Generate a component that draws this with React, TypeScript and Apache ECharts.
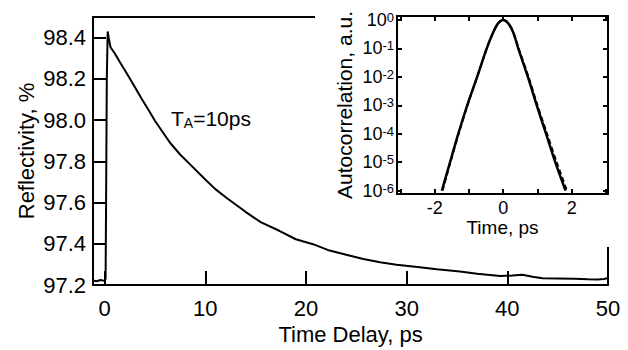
import React, { useEffect, useRef } from "react";
import * as echarts from "echarts";

// Main curve: reflectivity vs time delay
const delayPs = [
  -1.15, -0.8, -0.4, 0.0, 0.1, 0.15, 0.22, 0.31, 0.4, 0.6, 0.93, 1.5, 2.0, 2.7, 3.68,
  4.4, 5.0, 5.8, 6.5, 7.5, 8.49, 10, 11, 12.13, 14, 15.5, 17.35, 19, 20.7, 22.35, 24, 25.7,
  27.35, 29, 31.3, 33, 35.3, 37, 39.3, 40.5, 41.5, 42.5, 43.5, 45, 46.7, 48, 49, 49.6, 50,
];
const reflectivity = [
  97.222, 97.218, 97.224, 97.22, 97.23, 97.6, 98.2, 98.43, 98.4, 98.352, 98.33, 98.283,
  98.243, 98.186, 98.103, 98.046, 97.997, 97.94, 97.89, 97.833, 97.785, 97.712, 97.665,
  97.622, 97.555, 97.505, 97.463, 97.422, 97.398, 97.367, 97.347, 97.326, 97.31, 97.298,
  97.286, 97.276, 97.266, 97.255, 97.244, 97.246, 97.25, 97.24, 97.233, 97.232, 97.23,
  97.228, 97.227, 97.229, 97.234,
];

// Inset: autocorrelation (measured, solid) and fit (dashed)
const acTime = [-1.79, -1.55, -1.31, -1.05, -0.76, -0.48, -0.3, -0.15, 0, 0.15, 0.3, 0.44, 0.72, 0.98, 1.25, 1.52, 1.82];
const acMeasured = [1e-6, 1e-5, 1e-4, 1e-3, 1e-2, 0.1, 0.35, 0.76, 1, 0.76, 0.35, 0.1, 1e-2, 1e-3, 1e-4, 1e-5, 1e-6];
const acFitTime = [-1.77, -1.54, -1.3, -1.04, -0.76, -0.48, -0.3, -0.15, 0, 0.15, 0.3, 0.45, 0.74, 1.0, 1.28, 1.56, 1.86];
const acFit = [1e-6, 1e-5, 1e-4, 1e-3, 1e-2, 0.1, 0.35, 0.76, 1, 0.76, 0.35, 0.1, 1e-2, 1e-3, 1e-4, 1e-5, 1e-6];

const mainXTicks = [0, 10, 20, 30, 40, 50];
const mainYTicks = [97.2, 97.4, 97.6, 97.8, 98.0, 98.2, 98.4];
const insetXTicks = [-3, -2, -1, 0, 1, 2, 3];
const insetXLabels = [-2, 0, 2];
const insetYDecades = [-6, -5, -4, -3, -2, -1, 0];

const FONT = "Liberation Sans";
const BLACK = "#000";

export default function App() {
  const ref = useRef<HTMLDivElement>(null);
  useEffect(() => {
    if (!ref.current) return;
    const chart = echarts.init(ref.current, undefined, { renderer: "svg" });
    const lineStyle = { color: BLACK, width: 2 };
    const axisLine = { onZero: false, lineStyle };
    const mainSeries = delayPs.map((t, i) => [t, reflectivity[i]]);
    const acSeries = acTime.map((t, i) => [t, Math.log10(acMeasured[i])]);
    const fitSeries = acFitTime.map((t, i) => [t, Math.log10(acFit[i])]);

    chart.setOption({
      animation: false,
      backgroundColor: "#fff",
      textStyle: { fontFamily: FONT, color: BLACK },
      grid: [
        { left: 93, right: 20, top: 17, bottom: 62 },
        { left: 397, right: 20, top: 16, bottom: 156 },
      ],
      xAxis: [
        {
          gridIndex: 0, type: "value", min: -1.15, max: 50, position: "bottom", z: 0,
          axisLine, splitLine: { show: false },
          axisTick: { inside: true, length: 14, lineStyle, customValues: mainXTicks },
          axisLabel: { customValues: mainXTicks, fontSize: 22, margin: 12, color: BLACK, fontFamily: FONT },
          name: "Time Delay, ps", nameLocation: "middle", nameGap: 38, nameMoveOverlap: false,
          nameTextStyle: { fontSize: 22, color: BLACK, fontFamily: FONT },
        },
        {
          gridIndex: 0, type: "value", min: -1.15, max: 50, position: "top", z: 0,
          axisLine, splitLine: { show: false },
          axisTick: { show: false }, axisLabel: { show: false },
        },
        {
          gridIndex: 1, type: "value", min: -3.1, max: 3.06, position: "bottom", z: 20,
          axisLine, splitLine: { show: false },
          axisTick: { inside: true, length: 5, lineStyle, customValues: insetXTicks },
          axisLabel: { customValues: insetXLabels, fontSize: 18, margin: 5, color: BLACK, fontFamily: FONT },
          name: "Time, ps", nameLocation: "middle", nameGap: 24, nameMoveOverlap: false,
          nameTextStyle: { fontSize: 19, color: BLACK, fontFamily: FONT },
        },
        {
          gridIndex: 1, type: "value", min: -3.1, max: 3.06, position: "top", z: 20,
          axisLine, splitLine: { show: false },
          axisTick: { inside: true, length: 5, lineStyle, customValues: insetXTicks },
          axisLabel: { show: false },
        },
      ],
      yAxis: [
        {
          gridIndex: 0, type: "value", min: 97.2, max: 98.5, position: "left", z: 0,
          axisLine, splitLine: { show: false },
          axisTick: { inside: true, length: 13, lineStyle, customValues: mainYTicks },
          axisLabel: {
            customValues: mainYTicks, fontSize: 22, margin: 7, color: BLACK, fontFamily: FONT,
            formatter: (v: number) => v.toFixed(1),
          },
          name: "Reflectivity, %", nameLocation: "middle", nameGap: 56, nameMoveOverlap: false,
          nameTextStyle: { fontSize: 22, color: BLACK, fontFamily: FONT },
        },
        {
          gridIndex: 0, type: "value", min: 97.2, max: 98.5, position: "right", z: 0,
          axisLine, splitLine: { show: false },
          axisTick: { show: false }, axisLabel: { show: false },
        },
        {
          gridIndex: 1, type: "value", min: -6.12, max: 0.14, position: "left", z: 20,
          axisLine, splitLine: { show: false },
          axisTick: { inside: true, length: 5, lineStyle, customValues: insetYDecades },
          axisLabel: {
            customValues: insetYDecades, margin: 3, color: BLACK,
            formatter: (v: number) => `{b|10}{s|${Math.round(v)}}`,
            rich: {
              b: { fontSize: 18, fontFamily: FONT, color: BLACK },
              s: { fontSize: 13, fontFamily: FONT, color: BLACK, verticalAlign: "top" },
            },
          },
          name: "Autocorrelation, a.u.", nameLocation: "middle", nameGap: 42, nameMoveOverlap: false,
          nameTextStyle: { fontSize: 21, color: BLACK, fontFamily: FONT },
        },
        {
          gridIndex: 1, type: "value", min: -6.12, max: 0.14, position: "right", z: 20,
          axisLine, splitLine: { show: false },
          axisTick: { inside: true, length: 5, lineStyle, customValues: insetYDecades },
          axisLabel: { show: false },
        },
      ],
      graphic: {
        elements: [
          {
            type: "rect", z: 10, silent: true,
            shape: { x: 315, y: 0, width: 313, height: 247 },
            style: { fill: "#fff" },
          },
          {
            type: "text", z: 30, x: 171, y: 118,
            style: {
              text: "T{s|A}=10ps",
              fontSize: 21, fontFamily: FONT, fill: BLACK,
              verticalAlign: "middle",
              rich: { s: { fontSize: 14, fontFamily: FONT, fill: BLACK, verticalAlign: "bottom", padding: [10, 0, 0, 0] } },
            },
          },
        ],
      },
      series: [
        {
          type: "line", xAxisIndex: 0, yAxisIndex: 0, data: mainSeries, z: 15,
          showSymbol: false, symbol: "none", lineStyle: { color: BLACK, width: 2 },
        },
        {
          type: "line", xAxisIndex: 2, yAxisIndex: 2, data: acSeries, z: 21, smooth: 0.3,
          showSymbol: false, symbol: "none", lineStyle: { color: BLACK, width: 2.5 },
        },
        {
          type: "line", xAxisIndex: 2, yAxisIndex: 2, data: fitSeries, z: 22, smooth: 0.3,
          showSymbol: false, symbol: "none", lineStyle: { color: BLACK, width: 2, type: [5, 3] },
        },
      ],
    });
    return () => chart.dispose();
  }, []);
  return <div ref={ref} style={{ position: "fixed", left: 0, top: 0, width: 628, height: 350, background: "#fff" }} />;
}
